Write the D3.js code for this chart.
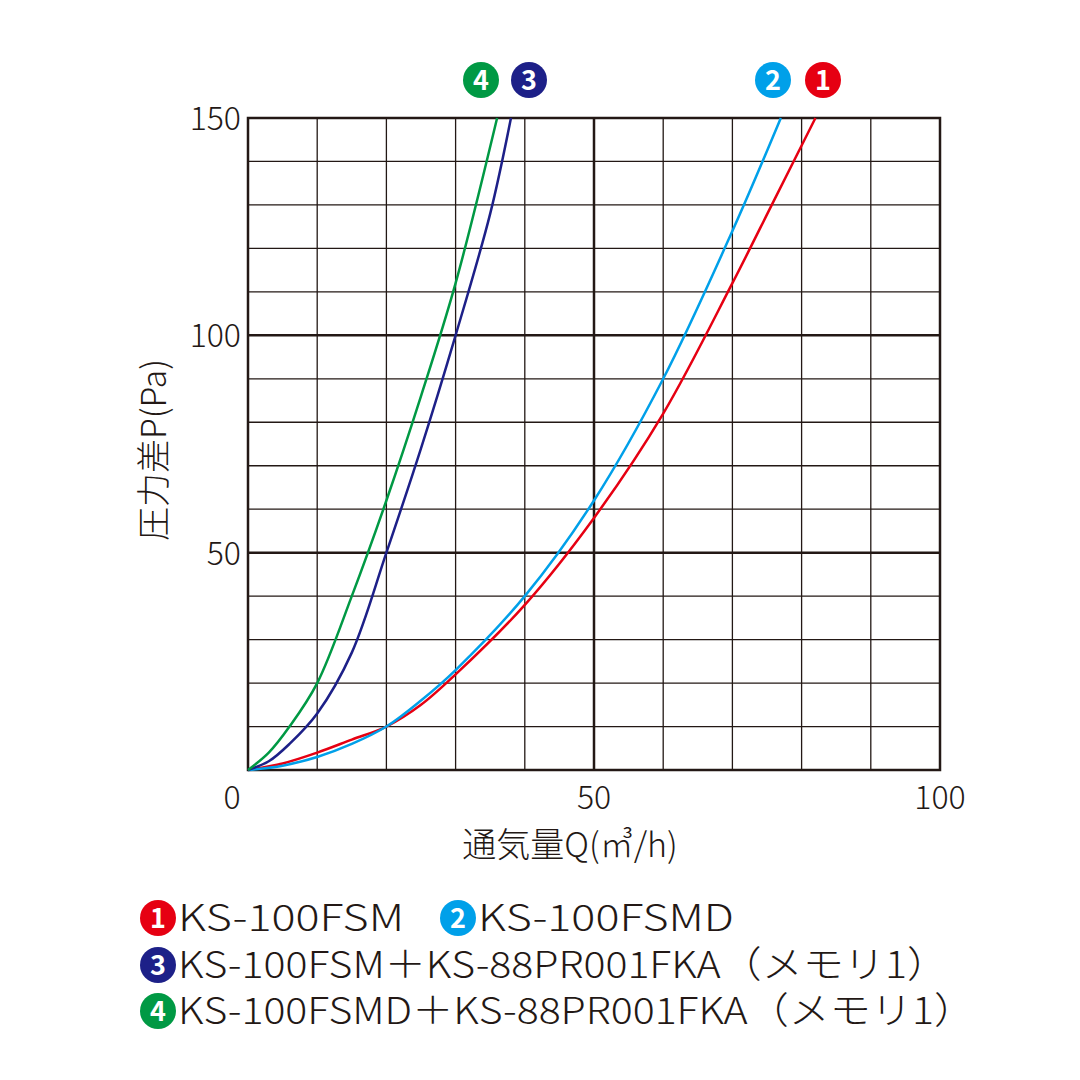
<!DOCTYPE html><html><head><meta charset="utf-8">
<script src="https://cdn.jsdelivr.net/npm/d3@7"></script>
<style>body{margin:0;background:#fff}</style></head><body>
<svg id="c" width="1080" height="1080"></svg>
<script>
const seriesNames=["KS-100FSM","KS-100FSMD","KS-100FSM＋KS-88PR001FKA（メモリ1）","KS-100FSMD＋KS-88PR001FKA（メモリ1）"];
const colors=["#e60012","#00a0e9","#1d2088","#009944"];
const xTicks=[0,50,100], yTicks=[50,100,150];
const s1=[[0,0],[5,1.5],[10,4],[15,7],[20,10],[25,15],[30,22],[40,38],[50,58],[60,82],[70,112],[76,131],[82,150]];
const s2=[[0,0],[5,1],[10,3],[15,6],[20,10],[25,16],[30,23],[40,40],[50,62],[60,90],[70,124],[77,150]];
const s3=[[0,0],[3,2],[6,6],[10,13],[15,27],[20,50],[25,74],[30,100],[35,128],[38,150]];
const s4=[[0,0],[3,4],[6,10],[10,20],[15,40],[20,62],[25,86],[30,112],[36,150]];
const data=[s1,s2,s3,s4];
const svg=d3.select("#c");
const x=d3.scaleLinear().domain([0,100]).range([248,940]);
const y=d3.scaleLinear().domain([0,150]).range([770,118]);
const F="'Noto Sans CJK JP','Noto Sans',sans-serif";
const g=svg.append("g");
d3.range(10,100,10).forEach(v=>g.append("line").attr("x1",x(v)).attr("x2",x(v)).attr("y1",y(0)).attr("y2",y(150)).attr("stroke","#231815").attr("stroke-width",v%50?1.3:2.5));
d3.range(10,150,10).forEach(v=>g.append("line").attr("y1",y(v)).attr("y2",y(v)).attr("x1",x(0)).attr("x2",x(100)).attr("stroke","#231815").attr("stroke-width",v%50?1.3:2.5));
g.append("rect").attr("x",x(0)).attr("y",y(150)).attr("width",x(100)-x(0)).attr("height",y(0)-y(150)).attr("fill","none").attr("stroke","#231815").attr("stroke-width",2.5);
const line=d3.line().x(d=>x(d[0])).y(d=>y(d[1])).curve(d3.curveCatmullRom.alpha(0.5));
data.forEach((d,i)=>svg.append("path").attr("d",line(d)).attr("fill","none").attr("stroke",colors[i]).attr("stroke-width",2.5));
xTicks.forEach(v=>svg.append("text").attr("x",x(v)-(v===0?16:0)).attr("y",809).attr("text-anchor","middle").attr("font-family",F).attr("font-weight",300).attr("font-size",32).attr("fill","#231815").text(v));
yTicks.forEach(v=>svg.append("text").attr("x",241).attr("y",y(v)+12).attr("text-anchor","end").attr("font-family",F).attr("font-weight",300).attr("font-size",32).attr("fill","#231815").text(v));
svg.append("text").attr("x",570).attr("y",857).attr("text-anchor","middle").attr("font-family",F).attr("font-weight",300).attr("font-size",34).attr("fill","#231815").text("通気量Q(㎥/h)");
svg.append("text").attr("transform","translate(166,450) rotate(-90)").attr("text-anchor","middle").attr("font-family",F).attr("font-weight",300).attr("font-size",34).attr("fill","#231815").text("圧力差P(Pa)");
function badge(cx,cy,i){svg.append("circle").attr("cx",cx).attr("cy",cy).attr("r",18).attr("fill",colors[i]);
svg.append("text").attr("x",cx).attr("y",cy+10).attr("text-anchor","middle").attr("font-family",F).attr("font-weight",700).attr("font-size",27).attr("fill","#fff").text(i+1);}
badge(481,80,3);badge(529,80,2);badge(773,80,1);badge(823,80,0);
const legW=[226,256,770,797];
function leg(cx,cy,i){badge(cx,cy,i);svg.append("text").attr("x",cx+20).attr("y",cy+13).attr("font-family",F).attr("font-weight",300).attr("font-size",37).attr("fill","#231815").attr("textLength",legW[i]).attr("lengthAdjust","spacingAndGlyphs").text(seriesNames[i]);}
leg(158,918,0);leg(458,918,1);leg(158,965,2);leg(158,1011,3);
</script></body></html>
